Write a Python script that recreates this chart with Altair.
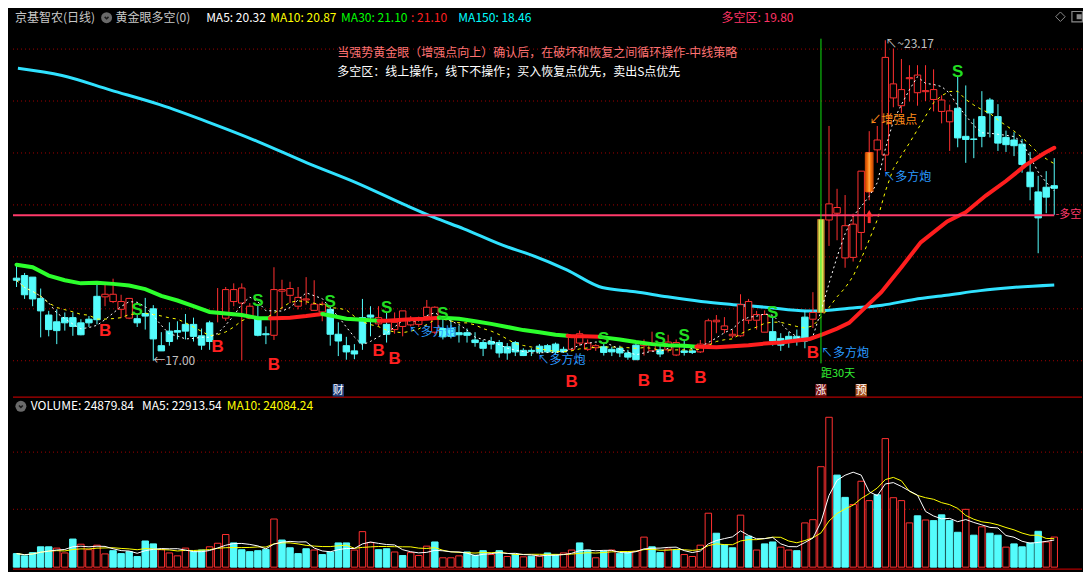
import altair as alt
import pandas as pd

# ---------------- data ----------------
idx = list(range(130))
opens = [
    18.59, 18.64, 18.61, 18.20, 17.88, 17.75, 17.83, 17.83, 17.73, 17.80,
    18.24, 18.23, 18.14, 17.99, 17.82, 17.81, 17.91, 18.00, 17.29, 17.57,
    17.58, 17.70, 17.70, 17.48, 17.73, 17.91, 17.82, 18.14, 18.11, 17.82,
    17.81, 17.52, 17.49, 18.34, 18.26, 18.05, 18.17, 17.97, 17.94, 17.99,
    17.51, 17.29, 17.19, 17.83, 17.88, 17.71, 17.70, 17.60, 17.66, 17.69,
    17.70, 17.85, 17.55, 17.62, 17.62, 17.54, 17.54, 17.40, 17.35, 17.37,
    17.35, 17.27, 17.35, 17.20, 17.20, 17.28, 17.29, 17.32, 17.22, 17.22,
    17.34, 17.22, 17.25, 17.27, 17.22, 17.24, 17.15, 17.30, 17.29, 17.19,
    17.21, 17.21, 17.11, 17.19, 17.19, 17.17, 17.32, 17.75, 17.60, 17.48,
    17.48, 17.78, 17.78, 17.55, 17.56, 17.43, 17.47, 17.47, 17.84, 17.80,
    17.93, 19.71, 19.84, 18.98, 18.99, 19.47, 20.25, 21.06, 20.96, 22.06,
    21.91, 22.43, 22.16, 22.18, 22.03, 21.80, 21.60, 21.86, 21.32, 21.27,
    21.70, 22.02, 21.70, 21.30, 21.25, 21.17, 20.63, 20.25, 20.34, 20.37]
closes = [
    18.55, 18.27, 18.19, 17.96, 17.60, 17.58, 17.73, 17.66, 17.50, 17.73,
    17.79, 18.28, 18.28, 18.14, 18.20, 17.73, 17.86, 17.42, 17.19, 17.37,
    17.55, 17.57, 17.47, 17.30, 17.37, 17.93, 18.37, 18.37, 18.40, 18.05,
    17.49, 17.50, 18.37, 18.37, 18.39, 18.22, 18.19, 18.09, 18.09, 17.51,
    17.38, 17.17, 17.13, 17.34, 17.84, 17.83, 17.51, 17.74, 17.96, 17.79,
    17.82, 18.03, 18.03, 17.46, 17.47, 17.50, 17.49, 17.35, 17.24, 17.32,
    17.15, 17.15, 17.17, 17.10, 17.18, 17.17, 17.17, 17.17, 17.17, 17.48,
    17.52, 17.34, 17.29, 17.16, 17.17, 17.15, 17.07, 17.02, 17.34, 17.34,
    17.13, 17.36, 17.35, 17.16, 17.16, 17.32, 17.77, 17.78, 17.67, 17.51,
    18.08, 18.14, 17.89, 17.89, 17.38, 17.30, 17.36, 17.38, 17.38, 17.93,
    19.72, 20.02, 19.95, 19.60, 19.63, 20.65, 21.01, 21.25, 22.84, 22.33,
    22.22, 22.45, 22.50, 22.20, 22.22, 22.02, 21.81, 21.29, 21.26, 21.26,
    21.32, 21.77, 21.19, 21.16, 21.14, 20.78, 20.35, 19.75, 20.15, 20.32]
highs = [
    18.83, 18.69, 18.61, 18.39, 17.96, 17.99, 17.93, 17.93, 17.80, 17.86,
    18.49, 18.50, 18.58, 18.27, 18.21, 17.90, 18.21, 18.07, 17.55, 17.74,
    17.76, 17.90, 17.83, 17.62, 17.77, 18.40, 18.42, 18.49, 18.49, 18.11,
    18.08, 17.66, 18.80, 18.56, 18.52, 18.42, 18.61, 18.55, 18.14, 18.05,
    17.74, 17.46, 17.32, 18.19, 18.05, 18.05, 17.93, 17.93, 17.96, 17.86,
    17.85, 18.17, 18.05, 17.83, 17.80, 17.68, 17.62, 17.55, 17.40, 17.46,
    17.40, 17.34, 17.38, 17.24, 17.24, 17.32, 17.32, 17.35, 17.27, 17.48,
    17.58, 17.41, 17.32, 17.34, 17.27, 17.29, 17.21, 17.32, 17.41, 17.56,
    17.35, 17.50, 17.41, 17.40, 17.22, 17.40, 17.81, 17.88, 17.84, 17.60,
    18.28, 18.19, 17.96, 17.97, 17.84, 17.53, 17.56, 17.60, 17.96, 18.32,
    19.72, 21.52, 20.31, 20.19, 19.83, 20.65, 21.42, 21.52, 23.17, 23.01,
    22.81, 22.69, 22.69, 22.69, 22.61, 22.11, 21.93, 22.48, 22.30, 21.66,
    22.19, 22.06, 21.94, 21.43, 21.40, 21.27, 21.02, 20.56, 20.65, 20.90]
lows = [
    18.42, 18.19, 18.05, 17.45, 17.47, 17.32, 17.58, 17.48, 17.49, 17.65,
    17.70, 18.05, 18.11, 17.82, 17.80, 17.65, 17.60, 17.00, 17.19, 17.29,
    17.41, 17.41, 17.37, 17.21, 17.21, 17.74, 17.77, 18.05, 17.01, 17.80,
    17.47, 17.32, 17.40, 17.99, 18.11, 17.99, 18.08, 17.97, 17.76, 17.29,
    17.09, 17.02, 17.03, 17.21, 17.47, 17.66, 17.35, 17.52, 17.47, 17.66,
    17.65, 17.80, 17.51, 17.41, 17.43, 17.35, 17.35, 17.27, 17.09, 17.22,
    17.06, 17.02, 17.09, 17.09, 17.09, 17.13, 17.15, 17.13, 17.15, 17.19,
    17.29, 17.19, 17.19, 17.10, 17.09, 17.07, 17.02, 17.02, 17.10, 17.19,
    17.07, 17.16, 17.09, 17.10, 17.13, 17.15, 17.29, 17.53, 17.53, 17.44,
    17.46, 17.71, 17.60, 17.55, 17.29, 17.19, 17.25, 17.29, 17.24, 17.63,
    17.93, 19.21, 19.32, 18.79, 18.91, 19.13, 20.09, 20.81, 20.65, 21.88,
    21.77, 21.99, 21.91, 22.00, 21.80, 21.57, 21.04, 21.11, 20.81, 20.90,
    21.11, 21.30, 21.04, 21.02, 20.94, 20.62, 20.09, 19.07, 19.84, 19.81]
volumes = [
    11230, 9360, 12030, 16840, 16840, 15770, 11760, 23260, 18980, 14430,
    18180, 10960, 13630, 11230, 12830, 8820, 21650, 19250, 14430, 11760,
    9360, 15770, 12830, 14170, 16840, 19780, 27000, 20050, 14430, 12830,
    13630, 14700, 39830, 22450, 16040, 11230, 15240, 14170, 10430, 12560,
    20050, 20050, 14170, 29400, 20320, 14430, 15240, 12560, 9620, 12030,
    9620, 17380, 20850, 7750, 7750, 9360, 12560, 9890, 13630, 10430,
    13630, 8820, 10690, 8550, 9090, 9090, 11760, 10430, 11760, 14170,
    20050, 14170, 7750, 13370, 14170, 11490, 12030, 13100, 24860, 16840,
    12030, 14970, 14170, 10430, 8820, 18180, 44640, 28070, 18440, 16040,
    43040, 25660, 14170, 19250, 20850, 16570, 14170, 13630, 36620, 39290,
    83130, 124030, 76180, 57740, 51860, 71100, 55060, 59880, 106390, 57470,
    55060, 36620, 42500, 39030, 38490, 43300, 38490, 28870, 47850, 26460,
    33410, 28070, 26460, 16570, 19250, 16840, 20050, 29670, 20850, 24879.84]
vol_up = [
    0, 0, 0, 0, 0, 1, 1, 0, 1, 1,
    1, 1, 0, 0, 0, 0, 0, 0, 1, 1,
    1, 1, 0, 0, 1, 1, 1, 0, 0, 0,
    0, 0, 1, 0, 0, 0, 0, 1, 0, 0,
    0, 0, 1, 1, 1, 0, 0, 1, 0, 1,
    1, 1, 0, 1, 1, 1, 0, 0, 0, 1,
    0, 1, 0, 1, 0, 1, 0, 0, 1, 1,
    0, 0, 1, 0, 1, 0, 0, 1, 1, 0,
    0, 1, 0, 1, 1, 1, 1, 0, 0, 0,
    1, 0, 1, 0, 0, 1, 1, 0, 1, 1,
    1, 1, 0, 0, 1, 1, 1, 0, 1, 1,
    1, 1, 0, 1, 0, 0, 0, 0, 1, 0,
    1, 0, 0, 1, 0, 0, 0, 0, 1, 1]

# MA30 (thick two-colour line) and MA150
ma30_idx = [0, 2, 4, 6, 8, 10, 12, 14, 16, 18, 20, 22, 24, 26, 28, 30, 31.5,
            32, 34, 36, 38, 39, 41, 43, 45, 46, 47, 49, 51, 52.5,
            53, 55, 57, 59, 61, 63, 65, 67, 68.5, 69, 70.5, 72.5,
            73, 75, 77, 79, 81, 83, 84.5, 85, 87, 89, 91, 93, 95, 97, 98.6,
            100.2, 102, 103.5, 105, 107.5, 110, 112.4, 115.7, 118, 120.5, 123,
            125.4, 127.8, 129]
ma30_val = [18.85, 18.80, 18.64, 18.55, 18.49, 18.50, 18.48, 18.45, 18.38, 18.25,
            18.16, 18.05, 17.94, 17.91, 17.88, 17.82, 17.82,
            17.82, 17.83, 17.86, 17.90, 17.87, 17.81, 17.79, 17.77, 17.77, 17.78,
            17.80, 17.81, 17.83,
            17.83, 17.81, 17.76, 17.71, 17.65, 17.59, 17.55, 17.50, 17.48, 17.47,
            17.47, 17.46,
            17.45, 17.41, 17.36, 17.32, 17.30, 17.29, 17.27, 17.27, 17.26, 17.28,
            17.30, 17.33, 17.35, 17.39, 17.42,
            17.51, 17.62, 17.73, 17.95, 18.32, 18.80, 19.28, 19.68, 19.86, 20.18,
            20.46, 20.76, 21.00, 21.10]
ma30_col = ["g"] * 17 + ["r"] * 4 + ["g"] * 4 + ["r"] * 5 + ["g"] * 9 + ["r"] * 3 + \
           ["g"] * 7 + ["r"] * 22
ma150_idx = [0.17, 5.65, 11.7, 17.8, 23.9, 30.0, 36.1, 42.2, 48.3, 51.9, 55.6,
             60.5, 64.1, 68.4, 72.8, 76.9, 80.9, 85.1, 89.1, 93.1, 98.2, 99.4,
             103.5, 107.6, 111.6, 115.6, 119.8, 123.8, 129]
ma150_val = [22.63, 22.49, 22.21, 21.93, 21.59, 21.22, 20.81, 20.43, 20.00, 19.76,
             19.54, 19.22, 19.03, 18.75, 18.41, 18.33, 18.23, 18.14, 18.08, 18.03,
             17.96, 17.96, 18.01, 18.07, 18.18, 18.26, 18.35, 18.41, 18.46]

duokong = 19.80
grid_prices = [17, 18, 19, 20, 21, 22, 23]
vol_grid = [47900, 95200]

s_idx = [15, 30, 39, 46, 53, 73, 80, 83, 94, 117]
b_idx = [11, 25, 32, 45, 47, 78, 81, 85, 99]
b_idx_low = [69]       # B drawn a little lower (crowded spot)
paoshou_idx = [49, 65, 108]
paoshou_idx_shift = [98]   # label nudged right (crowded spot)
zengqiang_idx = [106]
zt_idx = 100           # limit-up day (green signal line)
juli_price = [16.74]
badge_idx = [40, 100, 105]
badge_text = ["财", "涨", "预"]
badge_bg = ["#1b3d78", "#7a1212", "#a8501a"]

header_items = [
    ("京基智农(日线)", 2, "#c8c8c8"),
    ("黄金眼多空(0)", 104, "#c8c8c8"),
    ("MA5: 20.32", 196, "#ffffff"),
    ("MA10: 20.87", 261, "#ffff00"),
    ("MA30: 21.10", 333, "#00ff00"),
    (": 21.10", 404, "#ff2020"),
    ("MA150: 18.46", 452, "#00ffff"),
    ("多空区: 19.80", 719, "#ff3366"),
]
vol_header_items = [
    ("VOLUME: 24879.84", 18, "#ffffff"),
    ("MA5: 22913.54", 131, "#ffffff"),
    ("MA10: 24084.24", 217, "#ffff00"),
]
note1 = "当强势黄金眼（增强点向上）确认后，在破坏和恢复之间循环操作-中线策略"
note2 = "多空区：线上操作，线下不操作；买入恢复点优先，卖出S点优先"

# ---------------- layout / style ----------------
W, H = 1075, 564
SX, SY = W / 1091.0, H / 582.0
FONT = "Noto Sans CJK SC"
LATIN = "Liberation Sans"
RED = "#ff3030"
CYAN = "#54fcfc"
GREEN_MA = "#2cff2c"
RED_MA = "#ff1e1e"
MA150_C = "#30e2ff"
PINK = "#ff3a6a"
GRID = "#a00000"

X_DOM = [-0.44, 132.45]
P_DOM = [12.933, 23.791]
V_DOM = [-4010, 462754]
xs = alt.Scale(domain=X_DOM, nice=False, zero=False)
ps = alt.Scale(domain=P_DOM, nice=False, zero=False)
vs = alt.Scale(domain=V_DOM, nice=False, zero=False)


def XQ(f):
    return alt.X(f, type="quantitative", scale=xs, axis=None)


def PY(f):
    return alt.Y(f, type="quantitative", scale=ps, axis=None)


def VY(f):
    return alt.Y(f, type="quantitative", scale=vs, axis=None)


dir_stroke = alt.Scale(domain=["up", "dn"], range=[RED, CYAN])
dir_fill = alt.Scale(domain=["up", "dn"], range=["#000000", CYAN])

df = pd.DataFrame({"idx": idx, "open": opens, "high": highs, "low": lows,
                   "close": closes, "vol": volumes, "vup": vol_up})
one = pd.DataFrame({"a": [0]})

layers = []

# grid lines
layers.append(alt.Chart(pd.DataFrame({"p": grid_prices})).mark_rule(
    color=GRID, strokeDash=[1, 3], strokeWidth=1).encode(y=PY("p")))
layers.append(alt.Chart(pd.DataFrame({"v": vol_grid})).mark_rule(
    color=GRID, strokeDash=[1, 3], strokeWidth=1).encode(y=VY("v")))
layers.append(alt.Chart(one).mark_rule(color="#b00000", strokeWidth=1.2).encode(
    y=alt.value(401.5 * SY)))
layers.append(alt.Chart(one).mark_rule(color="#b00000", strokeWidth=1.2).encode(
    y=alt.value(579 * SY)))

# MA150
layers.append(alt.Chart(pd.DataFrame({"i": ma150_idx, "p": ma150_val})).mark_line(
    color=MA150_C, strokeWidth=3, interpolate="monotone").encode(x=XQ("i"), y=PY("p")))

# candles
cbase = alt.Chart(df).transform_calculate(
    dir="datum.close >= datum.open ? 'up' : 'dn'",
    top="max(datum.open, datum.close)",
    bot="min(datum.open, datum.close)",
    xl="datum.idx - 0.4",
    xr="datum.idx + 0.4",
)
layers.append(cbase.mark_rule(strokeWidth=1).encode(
    x=XQ("idx"), y=PY("high"), y2="top:Q",
    stroke=alt.Stroke("dir:N", scale=dir_stroke, legend=None)))
layers.append(cbase.mark_rule(strokeWidth=1).encode(
    x=XQ("idx"), y=PY("bot"), y2="low:Q",
    stroke=alt.Stroke("dir:N", scale=dir_stroke, legend=None)))
layers.append(cbase.mark_rect(strokeWidth=1).encode(
    x=XQ("xl"), x2="xr:Q", y=PY("bot"), y2="top:Q",
    fill=alt.Fill("dir:N", scale=dir_fill, legend=None),
    stroke=alt.Stroke("dir:N", scale=dir_stroke, legend=None)))

# limit-up highlighted bar and the 增强点 orange bar
zt_grad = {"gradient": "linear", "x1": 0, "x2": 1, "y1": 0, "y2": 0,
           "stops": [{"offset": 0, "color": "#6e6e1e"}, {"offset": 0.3, "color": "#e6e650"},
                     {"offset": 0.5, "color": "#ffff90"}, {"offset": 0.7, "color": "#e6e650"},
                     {"offset": 1, "color": "#6e6e1e"}]}
or_grad = {"gradient": "linear", "x1": 0, "x2": 1, "y1": 0, "y2": 0,
           "stops": [{"offset": 0, "color": "#b83c00"}, {"offset": 0.35, "color": "#ff7a10"},
                     {"offset": 0.5, "color": "#ffb050"}, {"offset": 0.65, "color": "#ff7a10"},
                     {"offset": 1, "color": "#b83c00"}]}
layers.append(cbase.transform_filter(f"datum.idx == {zt_idx}").transform_calculate(
    a="datum.idx - 0.45", b="datum.idx + 0.45").mark_rect(fill=zt_grad).encode(
    x=XQ("a"), x2="b:Q", y=PY("open"), y2="close:Q"))
layers.append(cbase.transform_filter(f"datum.idx == {zengqiang_idx[0]}").transform_calculate(
    a="datum.idx - 0.55", b="datum.idx + 0.55").mark_rect(fill=or_grad).encode(
    x=XQ("a"), x2="b:Q", y=PY("open"), y2="close:Q"))

# MA5 / MA10 dotted
layers.append(alt.Chart(df).transform_window(
    ma10="mean(close)", frame=[-9, 0], sort=[alt.SortField("idx")]).mark_line(
    color="#ffff00", strokeWidth=1, strokeDash=[3, 4]).encode(x=XQ("idx"), y=PY("ma10")))
layers.append(alt.Chart(df).transform_window(
    ma5="mean(close)", frame=[-4, 0], sort=[alt.SortField("idx")]).mark_line(
    color="#ffffff", strokeWidth=1, strokeDash=[2, 3]).encode(x=XQ("idx"), y=PY("ma5")))

# MA30 two-colour thick line
rows = []
run = 0
for k in range(len(ma30_idx)):
    if k > 0 and ma30_col[k] != ma30_col[k - 1]:
        run += 1
        rows.append({"run": run, "i": ma30_idx[k - 1], "p": ma30_val[k - 1], "c": ma30_col[k]})
    rows.append({"run": run, "i": ma30_idx[k], "p": ma30_val[k], "c": ma30_col[k]})
layers.append(alt.Chart(pd.DataFrame(rows)).mark_line(strokeWidth=4, strokeCap="round").encode(
    x=XQ("i"), y=PY("p"), detail="run:N",
    color=alt.Color("c:N", scale=alt.Scale(domain=["g", "r"], range=[GREEN_MA, RED_MA]),
                    legend=None)))

# 多空区 line
layers.append(alt.Chart(pd.DataFrame({"p": [duokong], "x0": [X_DOM[0]], "x1": [idx[-1]]})).mark_rule(
    color=PINK, strokeWidth=2).encode(y=PY("p"), x=XQ("x0"), x2="x1:Q"))
layers.append(alt.Chart(pd.DataFrame({"p": [duokong], "x0": [idx[-1] + 0.15], "t": ["-多空"]})).mark_text(
    color=PINK, font=FONT, fontSize=11, align="left", baseline="middle", clip=True).encode(
    x=XQ("x0"), y=PY("p"), text="t:N"))

# green signal line on limit-up day
layers.append(alt.Chart(pd.DataFrame({"i": [zt_idx], "p0": [23.2], "p1": [16.95]})).mark_rule(
    color="#10e010", strokeWidth=1).encode(x=XQ("i"), y=PY("p0"), y2="p1:Q"))

# red up arrow at the 多空 line
arr = pd.DataFrame({"i": zengqiang_idx, "p": [duokong + 0.04], "p1": [duokong - 0.02], "p2": [duokong - 0.15]})
layers.append(alt.Chart(arr).mark_rule(color=RED, strokeWidth=3).encode(x=XQ("i"), y=PY("p1"), y2="p2:Q"))
layers.append(alt.Chart(arr).mark_point(shape="triangle-up", filled=True, color=RED, size=55, opacity=1).encode(
    x=XQ("i"), y=PY("p")))

# S / B signals
s_df = pd.DataFrame({"i": s_idx, "p": [highs[k] for k in s_idx], "t": ["S"] * len(s_idx)})
b_df = pd.DataFrame({"i": b_idx, "p": [lows[k] for k in b_idx], "t": ["B"] * len(b_idx)})
b2_df = pd.DataFrame({"i": b_idx_low, "p": [lows[k] for k in b_idx_low], "t": ["B"] * len(b_idx_low)})
layers.append(alt.Chart(s_df).mark_text(font=LATIN, fontWeight="bold", fontSize=17, color="#22dd22",
                                        baseline="middle", dy=-4).encode(x=XQ("i"), y=PY("p"), text="t:N"))
layers.append(alt.Chart(b_df).mark_text(font=LATIN, fontWeight="bold", fontSize=17, color="#ff2020",
                                        baseline="middle", dy=25).encode(x=XQ("i"), y=PY("p"), text="t:N"))
layers.append(alt.Chart(b2_df).mark_text(font=LATIN, fontWeight="bold", fontSize=17, color="#ff2020",
                                         baseline="middle", dy=31).encode(x=XQ("i"), y=PY("p"), text="t:N"))

# 多方炮 / 增强点 / 距30天 / extremes
pf = pd.DataFrame({"i": paoshou_idx, "p": [lows[k] for k in paoshou_idx], "t": ["↖多方炮"] * len(paoshou_idx)})
layers.append(alt.Chart(pf).mark_text(font=FONT, fontSize=12, color="#2a9bff", align="left",
                                      baseline="top", dx=-2, dy=1).encode(x=XQ("i"), y=PY("p"), text="t:N"))
pf2 = pd.DataFrame({"i": paoshou_idx_shift, "p": [lows[k] for k in paoshou_idx_shift],
                    "t": ["↖多方炮"] * len(paoshou_idx_shift)})
layers.append(alt.Chart(pf2).mark_text(font=FONT, fontSize=12, color="#2a9bff", align="left",
                                       baseline="top", dx=16, dy=0).encode(x=XQ("i"), y=PY("p"), text="t:N"))
zq = pd.DataFrame({"i": zengqiang_idx, "p": [highs[k] for k in zengqiang_idx], "t": ["↙增强点"]})
layers.append(alt.Chart(zq).mark_text(font=FONT, fontSize=12, color="#ff8c1a", align="left",
                                      baseline="bottom", dy=-4).encode(x=XQ("i"), y=PY("p"), text="t:N"))
jl = pd.DataFrame({"i": [zt_idx], "p": juli_price, "t": ["距30天"]})
layers.append(alt.Chart(jl).mark_text(font=FONT, fontSize=11, color="#33ee33", align="left",
                                      baseline="middle", dx=0).encode(x=XQ("i"), y=PY("p"), text="t:N"))
lo_i = min(range(len(lows)), key=lambda k: lows[k])
hi_i = max(range(len(highs)), key=lambda k: highs[k])
lo_df = pd.DataFrame({"i": [lo_i], "p": [lows[lo_i]], "t": ["←" + f"{lows[lo_i]:.2f}"]})
hi_df = pd.DataFrame({"i": [hi_i], "p": [highs[hi_i]], "t": ["↖~" + f"{highs[hi_i]:.2f}"]})
layers.append(alt.Chart(lo_df).mark_text(font=FONT, fontSize=12, color="#c0c0c0", align="left",
                                         baseline="middle").encode(x=XQ("i"), y=PY("p"), text="t:N"))
layers.append(alt.Chart(hi_df).mark_text(font=FONT, fontSize=12, color="#c0c0c0", align="left",
                                         baseline="middle", dy=4).encode(x=XQ("i"), y=PY("p"), text="t:N"))

# badges at the bottom of the price panel
bd = pd.DataFrame({"i": badge_idx, "t": badge_text, "bg": badge_bg})
layers.append(alt.Chart(bd).transform_calculate(a="datum.i - 0.7", b="datum.i + 0.7").mark_rect().encode(
    x=XQ("a"), x2="b:Q", y=alt.value(388 * SY), y2=alt.value(401 * SY), fill=alt.Fill("bg:N", scale=None)))
layers.append(alt.Chart(bd).mark_text(font=FONT, fontSize=11, color="#ffffff", baseline="middle").encode(
    x=XQ("i"), y=alt.value(395 * SY), text="t:N"))

# volume bars and averages
vbase = alt.Chart(df).transform_calculate(
    vdir="datum.vup == 1 ? 'up' : 'dn'", xl="datum.idx - 0.4", xr="datum.idx + 0.4")
layers.append(vbase.mark_rect(strokeWidth=1).encode(
    x=XQ("xl"), x2="xr:Q", y=VY("vol"), y2=alt.datum(0),
    fill=alt.Fill("vdir:N", scale=dir_fill, legend=None),
    stroke=alt.Stroke("vdir:N", scale=dir_stroke, legend=None)))
layers.append(alt.Chart(df).transform_window(
    vma10="mean(vol)", frame=[-9, 0], sort=[alt.SortField("idx")]).mark_line(
    color="#ffff00", strokeWidth=1).encode(x=XQ("idx"), y=VY("vma10")))
layers.append(alt.Chart(df).transform_window(
    vma5="mean(vol)", frame=[-4, 0], sort=[alt.SortField("idx")]).mark_line(
    color="#ffffff", strokeWidth=1).encode(x=XQ("idx"), y=VY("vma5")))


# header texts
def label(t, x, y, color, size=12, font=FONT, align="left"):
    return alt.Chart(pd.DataFrame({"t": [t]})).mark_text(
        align=align, baseline="middle", color=color, fontSize=size, font=font).encode(
        text="t:N", x=alt.value(x * SX), y=alt.value(y * SY))


for t, x, c in header_items:
    layers.append(label(t, x, 10, c))
for t, x, c in vol_header_items:
    layers.append(label(t, x, 411, c))
layers.append(label(note1, 329, 46, "#ff7373"))
layers.append(label(note2, 329, 66, "#ffffff"))

# small icons
for cx, cy in [(95, 10), (8, 411)]:
    layers.append(alt.Chart(one).mark_point(shape="circle", filled=True, color="#6a6a6a", size=120, opacity=1).encode(
        x=alt.value(cx * SX), y=alt.value(cy * SY)))
    layers.append(alt.Chart(one).mark_point(shape="M -0.7 -0.3 L 0 0.4 L 0.7 -0.3", filled=False,
                                            color="#1a1a1a", strokeWidth=1.5, size=30, opacity=1).encode(
        x=alt.value(cx * SX), y=alt.value(cy * SY)))
layers.append(alt.Chart(one).mark_point(shape="diamond", filled=False, color="#8a8a8a", size=90,
                                        strokeWidth=1, opacity=1).encode(x=alt.value(1063 * SX), y=alt.value(9 * SY)))
layers.append(alt.Chart(one).mark_point(shape="square", filled=False, color="#8a8a8a", size=110,
                                        strokeWidth=1.2, opacity=1).encode(x=alt.value(1080 * SX), y=alt.value(9 * SY)))
layers.append(alt.Chart(one).mark_point(shape="square", filled=True, color="#8a8a8a", size=25,
                                        opacity=1).encode(x=alt.value(1082 * SX), y=alt.value(9 * SY)))

chart = alt.layer(*layers).resolve_scale(
    y="independent", fill="independent", stroke="independent", color="independent"
).properties(
    width=W, height=H, padding=0, background="#000000",
    autosize=alt.AutoSizeParams(type="fit", contains="padding"),
).configure_view(strokeWidth=0)

chart.save("out.html", embed_options={"renderer": "svg", "actions": False})
